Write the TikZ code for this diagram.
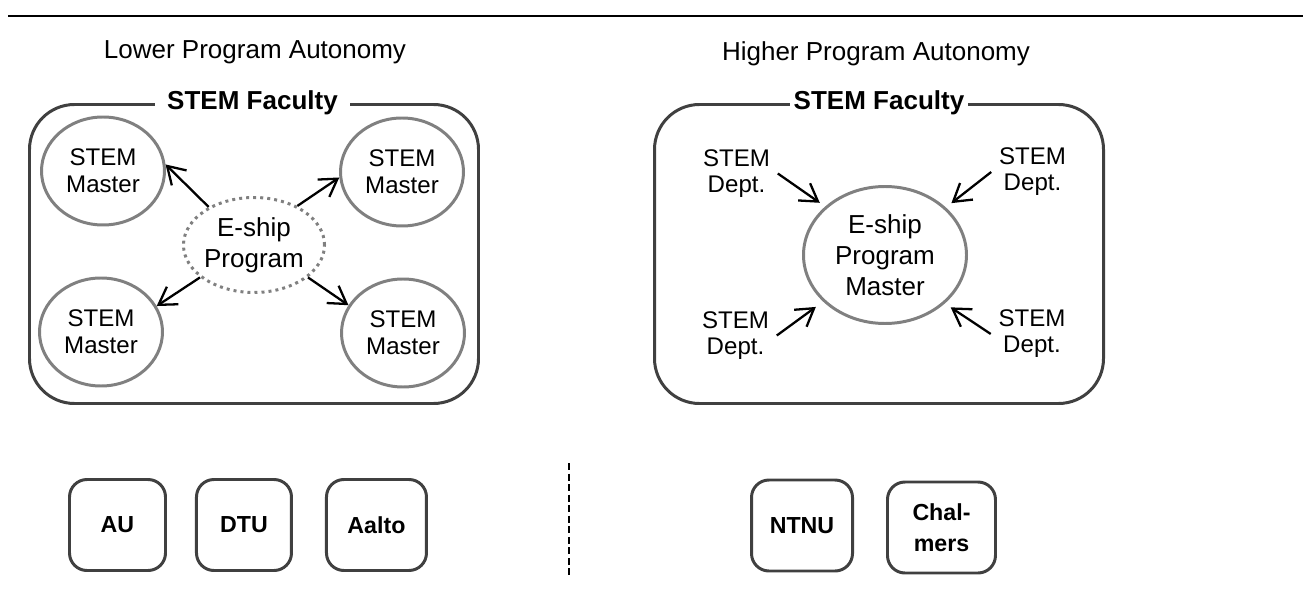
\documentclass[tikz,border=0pt]{standalone}
\usepackage{fontspec}
\setmainfont{Liberation Sans}
\usepackage{xcolor}
\usepackage{tikz}
\usetikzlibrary{shapes,arrows.meta,positioning,calc}
\definecolor{framegray}{HTML}{404040}
\definecolor{ringgray}{HTML}{808080}

\begin{document}
\begin{tikzpicture}[
    node distance=0.6cm,
    faculty/.style={rectangle, draw=framegray, rounded corners=0.9cm, line width=1.7pt,
                    minimum width=8.98cm, minimum height=5.98cm},
    facultylabel/.style={fill=white, text=black, inner ysep=1pt,
                         font=\fontsize{14.8}{17}\selectfont\bfseries},
    title/.style={font=\fontsize{14.8}{17}\selectfont},
    master/.style={ellipse, draw=ringgray, line width=1.7pt, inner sep=0pt, align=center,
                   minimum width=2.46cm, minimum height=2.16cm, font=\fontsize{13.7}{15.6}\selectfont},
    dept/.style={align=center, inner sep=0.15cm, font=\fontsize{13.7}{14.8}\selectfont},
    uni/.style={rectangle, draw=framegray, rounded corners=0.35cm, line width=1.7pt,
                minimum height=1.82cm, align=center, font=\fontsize{13.2}{17.6}\selectfont\bfseries},
    link/.style={-{Straight Barb[length=0.34cm,width=0.42cm]}, line width=1.3pt, black}
]
    \useasboundingbox (0,0) rectangle (26.06,-11.84);

    % Top rule
    \coordinate (ruleL) at (0.16,-0.32);
    \coordinate (ruleR) at (26.06,-0.32);
    \draw[line width=1.2pt] (ruleL) -- (ruleR);

    % Titles
    \node[title] (lowertitle) at (5.10,-1.04) {Lower Program Autonomy};
    \node[title] (highertitle) at (17.52,-1.08) {Higher Program Autonomy};

    % Faculty frames
    \node[faculty] (leftfac) at (5.08,-5.08) {};
    \node[faculty] (rightfac) at (17.58,-5.08) {};
    \node[facultylabel, inner xsep=0.24cm] (leftfaclabel) at ([xshift=-0.03cm]leftfac.north) {STEM Faculty};
    \node[facultylabel, inner xsep=0.08cm] (rightfaclabel) at (rightfac.north) {STEM Faculty};

    % Lower autonomy: programme spread over the masters
    \node[master] (ml1) at (2.06,-3.42) {STEM\\Master};
    \node[master] (ml2) at (8.04,-3.44) {STEM\\Master};
    \node[master] (ml3) at (2.02,-6.64) {STEM\\Master};
    \node[master] (ml4) at (8.06,-6.66) {STEM\\Master};
    \node[ellipse, draw=ringgray, line width=1.7pt, dash pattern=on 1.7pt off 2.3pt,
          minimum width=2.66cm, minimum height=1.9cm, inner sep=0pt, align=center,
          font=\fontsize{14.8}{17.5}\selectfont] (eship) at (5.08,-4.90) {E-ship\\Program};

    \draw[link] (eship.140) -- (ml1.6);
    \draw[link] (eship.42) -- (ml2.185);
    \draw[link] (eship.211) -- (ml3.25);
    \draw[link] (eship.329) -- (ml4.153);

    % Higher autonomy: departments feed one master
    \node[ellipse, draw=ringgray, line width=1.7pt, inner sep=0pt, align=center,
          minimum width=3.26cm, minimum height=2.74cm,
          font=\fontsize{14.8}{17.6}\selectfont] (core) at (17.70,-5.10) {E-ship\\Program\\Master};
    \node[dept] (d1) at (14.73,-3.47) {STEM\\Dept.};
    \node[dept] (d2) at (20.65,-3.44) {STEM\\Dept.};
    \node[dept] (d3) at (14.71,-6.71) {STEM\\Dept.};
    \node[dept] (d4) at (20.64,-6.68) {STEM\\Dept.};

    \draw[link, shorten >=0.13cm] (d1.east) -- (core.141);
    \draw[link, shorten >=0.14cm] (d2.west) -- (core.38);
    \draw[link, shorten >=0.18cm] (d3.east) -- (core.217);
    \draw[link, shorten >=0.14cm] (d4.west) -- (core.321);

    % Universities
    \node[uni, minimum width=1.92cm] (au) at (2.35,-10.50) {AU};
    \node[uni, minimum width=1.90cm, right=0.56cm of au] (dtu) {DTU};
    \node[uni, minimum width=2.00cm, right=0.64cm of dtu] (aalto) {Aalto};
    \node[uni, minimum width=2.02cm] (ntnu) at (16.04,-10.51) {NTNU};
    \node[uni, minimum width=2.16cm, right=0.64cm of ntnu, yshift=-0.04cm] (chalmers) {Chal-\\mers};

    % Separator
    \coordinate (septop) at (11.38,-9.26);
    \coordinate (sepbot) at (11.38,-11.56);
    \draw[line width=1.3pt, dash pattern=on 4pt off 2pt] (septop) -- (sepbot);
\end{tikzpicture}
\end{document}
